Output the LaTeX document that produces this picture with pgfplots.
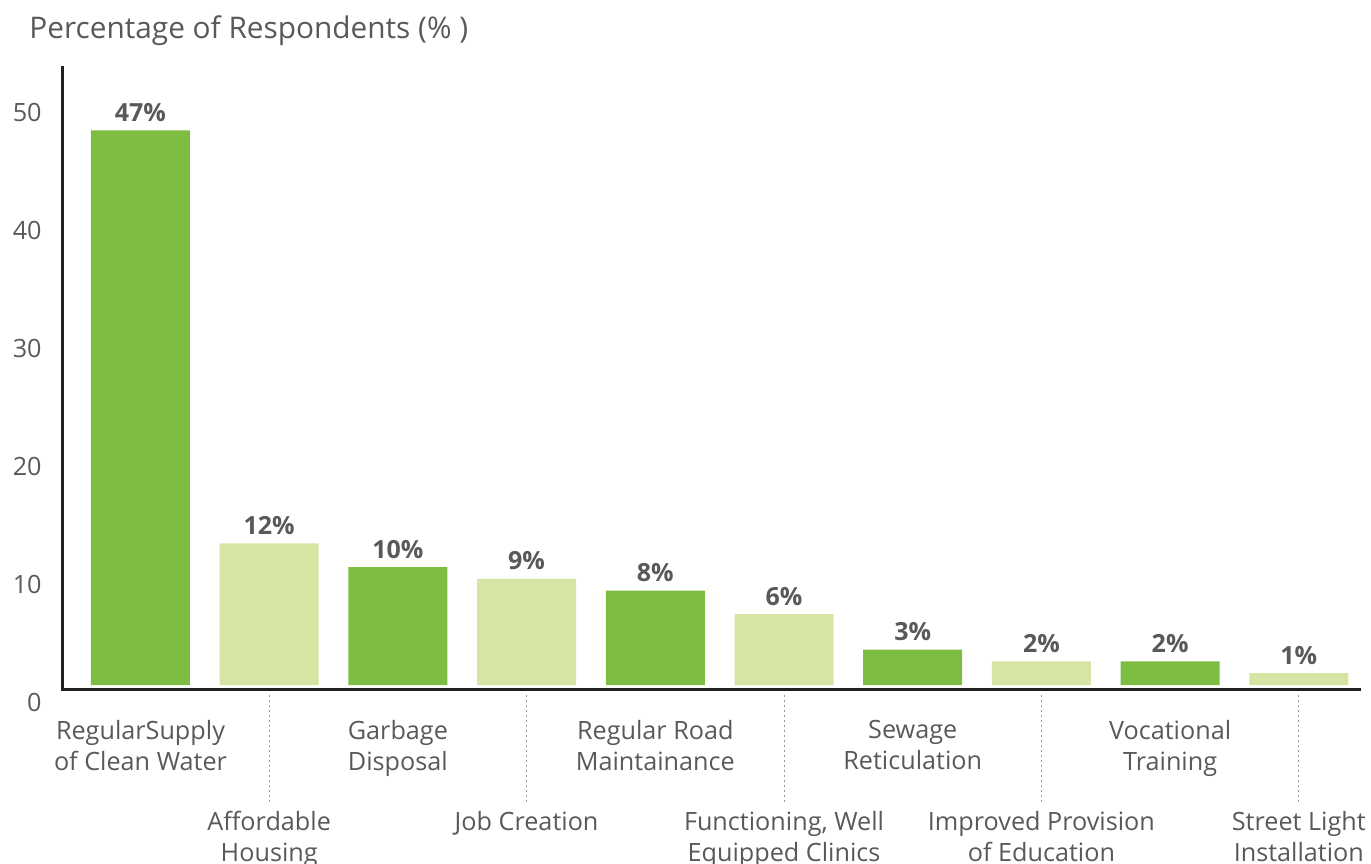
\documentclass[border=0pt]{standalone}
\usepackage{pgfplots}
\pgfplotsset{compat=1.18}
\usepackage{fontspec}
\setmainfont{Open Sans}
\definecolor{dg}{HTML}{7DBD42}
\definecolor{lg}{HTML}{D6E5A3}
\definecolor{tx}{HTML}{595959}
\definecolor{axc}{HTML}{231F20}
\begin{document}
\begin{tikzpicture}
\begin{axis}[
  name=main,
  /pgf/number format/assume math mode=true,
  scale only axis, width=649pt, height=318pt,
  xmin=-0.602, xmax=9.483, ymin=-1.44, ymax=52.46,
  clip=false,
  axis line style={draw=none},
  major tick length=0pt,
  ybar, bar width=49.5pt, bar shift=0pt,
  ytick={-1.44,8.56,18.56,28.56,38.56,48.56},
  yticklabels={0,10,20,30,40,50},
  yticklabel style={font=\fontsize{12.6}{14}\selectfont, text=tx, anchor=east, inner sep=0pt, xshift=-10.5pt},
  xtick={0,2,4,6,8},
  xticklabels={{RegularSupply\\of Clean Water},{Garbage\\Disposal},{Regular Road\\Maintainance},{Sewage\\Reticulation},{Vocational\\Training}},
  extra x ticks={1,3,5,7,9},
  extra x tick labels={{Affordable\\Housing},{Job Creation},{Functioning, Well\\Equipped Clinics},{Improved Provision\\of Education},{Street Light\\Installation}},
  extra x tick style={xticklabel style={yshift=-45.5pt}},
  xticklabel style={font=\fontsize{12.6}{15.5}\selectfont, text=tx, align=center, anchor=north, inner sep=0pt, yshift=-9pt},
  nodes near coords={\pgfmathprintnumber{\pgfplotspointmeta}\%},
  nodes near coords style={font=\bfseries\fontsize{12.5}{14}\selectfont, text=tx, anchor=base, inner sep=0pt, yshift=4.5pt},
]
\addplot[fill=dg, draw=none] coordinates {(0,47) (2,10) (4,8) (6,3) (8,2)};
\addplot[fill=lg, draw=none] coordinates {(1,12) (3,9) (5,6) (7,2) (9,1)};
\draw[line width=1.5pt, axc] (axis cs:-0.602,52.46) -- (axis cs:-0.602,-0.42) -- (axis cs:9.483,-0.42);
\pgfplotsinvokeforeach{1,3,5,7,9}{
  \draw[line width=0.5pt, color=black!40, dash pattern=on 1pt off 1.5pt] (axis cs:#1,-0.85) -- (axis cs:#1,-10.0);
}
\end{axis}
\node[anchor=base west, font=\fontsize{14.9}{17}\selectfont, text=tx, inner sep=0pt] at ([shift={(-17pt,331.5pt)}]main.south west) {Percentage of Respondents (\% )};
\pgfresetboundingbox
\path[use as bounding box] ([shift={(-31.5pt,-80.5pt)}]main.south west) rectangle ([shift={(654pt,351pt)}]main.south west);
\end{tikzpicture}
\end{document}
